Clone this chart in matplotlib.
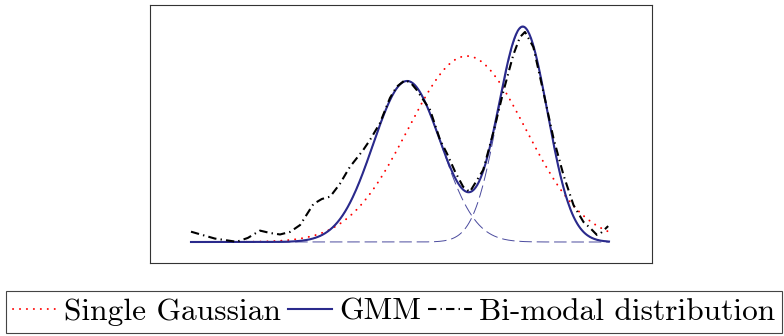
import numpy as np
import matplotlib
matplotlib.use("Agg")
from matplotlib import pyplot as plt


# single gaussian fit (mean, sigma, height)
single_mean = 66.0
single_sigma = 14.1
single_height = 0.865

# two component GMM fit
gmm_means = [51.7, 79.4]
gmm_sigmas = [8.13, 5.86]
gmm_heights = [0.749, 1.0]

# measured bi-modal distribution
bimodal_x = [0.0, 5.7, 10.9, 13.6, 16.5, 18.9, 21.3, 23.7, 26.1, 29.3, 31.3,
             33.3, 35.6, 38.0, 41.2, 42.8, 45.2, 47.6, 49.2, 51.2, 52.6, 54.0,
             57.2, 59.6, 61.2, 63.2, 65.1, 66.7, 69.9, 72.3, 74.7, 77.1, 78.7,
             79.9, 81.9, 84.3, 86.7, 89.1, 91.5, 93.9, 95.5, 97.1, 97.8, 99.8]
bimodal_y = [0.048, 0.016, 0.001, 0.019, 0.053, 0.042, 0.035, 0.047, 0.079,
             0.177, 0.200, 0.211, 0.270, 0.349, 0.428, 0.474, 0.553, 0.670,
             0.722, 0.753, 0.740, 0.707, 0.614, 0.474, 0.413, 0.326, 0.257,
             0.233, 0.335, 0.507, 0.698, 0.870, 0.953, 0.977, 0.907, 0.698,
             0.484, 0.312, 0.172, 0.093, 0.065, 0.033, 0.037, 0.074]

labels = ["Single Gaussian", "GMM", "Bi-modal distribution"]

BLUE = "#2a2a8c"


def gauss(x, mu, sigma, h):
    return h * np.exp(-(x - mu) ** 2 / (2 * sigma ** 2))


def main():
    plt.rcParams["font.family"] = ["cmr10", "DejaVu Serif"]
    plt.rcParams["axes.formatter.use_mathtext"] = True
    plt.rcParams["lines.scale_dashes"] = False

    fig = plt.figure(figsize=(7.84, 3.36), dpi=100)
    ax = fig.add_axes([150 / 784, 1 - 263 / 336, 502 / 784, 258 / 336])

    x = np.linspace(0, 100, 500)
    single = gauss(x, single_mean, single_sigma, single_height)
    comps = [gauss(x, m, s, h) for m, s, h in zip(gmm_means, gmm_sigmas, gmm_heights)]

    l1, = ax.plot(x, single, color="red", lw=1.4, dashes=[0.1, 4.9],
                  dash_capstyle="round")
    for c in comps:
        ax.plot(x, c, color=BLUE, lw=0.7, dashes=[9, 3.5], alpha=0.85)
    l2, = ax.plot(x, comps[0] + comps[1], color=BLUE, lw=1.5)
    l3, = ax.plot(bimodal_x, bimodal_y, color="black", lw=1.5,
                  dashes=[6, 3, 1, 3])

    ax.set_xlim(-41 / 4.18, 461 / 4.18)
    ax.set_ylim(-21 / 215, 237 / 215)
    ax.set_xticks([])
    ax.set_yticks([])
    for sp in ax.spines.values():
        sp.set_color("#333333")
        sp.set_linewidth(0.8)

    leg = fig.legend([l1, l2, l3], labels, loc="center",
                     bbox_to_anchor=(394 / 784, 1 - 312 / 336), ncol=3,
                     fontsize=22.6, handlelength=1.4, handletextpad=0.22,
                     columnspacing=0.22, borderpad=0.22, fancybox=False,
                     edgecolor="#444444", framealpha=1)
    leg.get_frame().set_linewidth(0.8)

    fig.savefig("out.png", dpi=100)


if __name__ == "__main__":
    main()
